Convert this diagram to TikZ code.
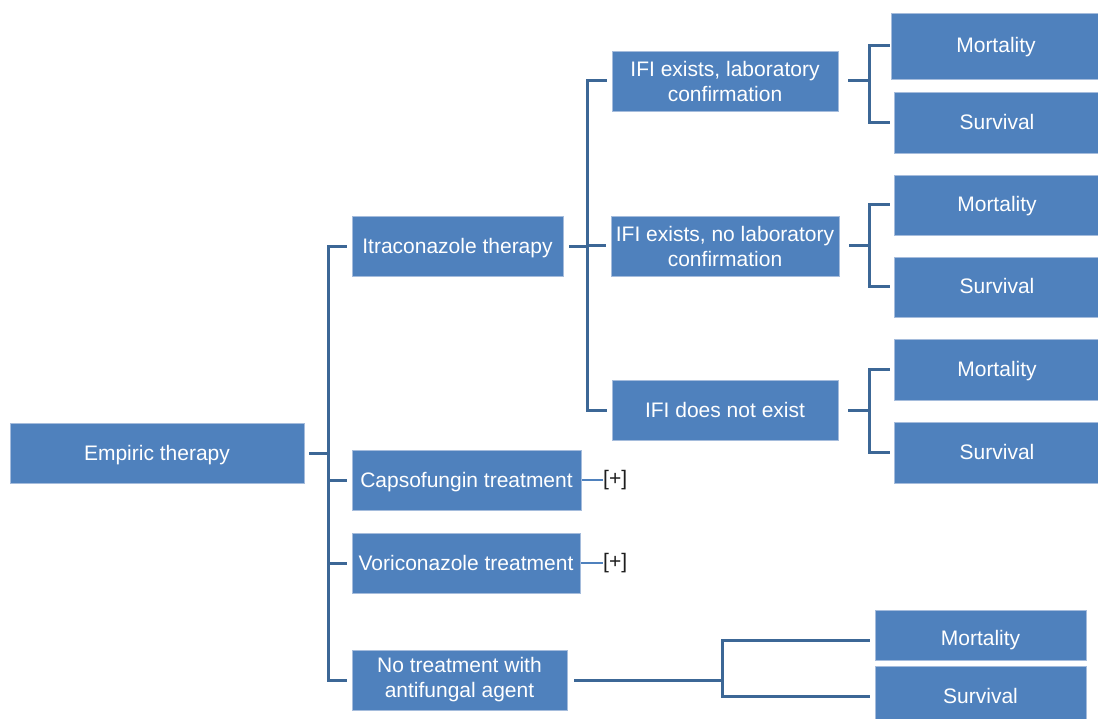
\documentclass[tikz,border=0pt]{standalone}
\usepackage{fontspec}
\setmainfont{Liberation Sans}
\definecolor{boxblue}{RGB}{79,129,189}
\definecolor{boxedge}{RGB}{165,188,220}
\definecolor{linkblue}{RGB}{60,103,150}
\definecolor{pluslink}{RGB}{79,129,189}
\definecolor{plustext}{RGB}{30,30,30}
\tikzset{
  box/.style={rectangle, fill=boxblue, draw=boxedge, line width=0.8pt, text=white,
    inner sep=0pt, align=center, font=\fontsize{21}{25}\selectfont},
  one/.style={box, text height=17pt, text depth=3pt},
  conn/.style={draw=linkblue, line width=3pt},
  pconn/.style={draw=pluslink, line width=1.4pt},
  plus/.style={text=plustext, inner sep=0pt, anchor=west, font=\fontsize{21}{25}\selectfont}
}
\begin{document}
\begin{tikzpicture}[x=1pt, y=-1pt]
\useasboundingbox (0,0) rectangle (1098,719);
\clip (0,0) rectangle (1098,719);
\fill[white] (0,0) rectangle (1098,719);

% level 0
\node[one, minimum width=294pt, minimum height=60pt] (emp) at (157,453) {Empiric therapy};
% level 1
\node[one, minimum width=211pt, minimum height=60pt] (itra) at (457.5,246.5) {Itraconazole therapy};
\node[one, minimum width=229pt, minimum height=60pt] (caps) at (466.5,480) {Capsofungin treatment};
\node[one, minimum width=228pt, minimum height=60pt] (vori) at (466,563) {Voriconazole treatment};
\node[box, minimum width=215pt, minimum height=60pt] (notr) at (459.5,680) {No treatment with\\antifungal agent};
% level 2
\node[box, minimum width=226pt, minimum height=60pt] (ifa) at (725,81) {IFI exists, laboratory\\confirmation};
\node[box, minimum width=228pt, minimum height=60pt] (ifb) at (725,246) {IFI exists, no laboratory\\confirmation};
\node[one, minimum width=226pt, minimum height=60pt] (ifc) at (725,410.5) {IFI does not exist};
% level 3
\node[one, minimum width=210pt, minimum height=66pt] (ma) at (996,46) {Mortality};
\node[one, minimum width=206pt, minimum height=61pt] (sa) at (997,122.5) {Survival};
\node[one, minimum width=206pt, minimum height=60pt] (mb) at (997,205) {Mortality};
\node[one, minimum width=206pt, minimum height=60pt] (sb) at (997,287) {Survival};
\node[one, minimum width=206pt, minimum height=61pt] (mc) at (997,369.5) {Mortality};
\node[one, minimum width=206pt, minimum height=61pt] (sc) at (997,452.5) {Survival};
\node[one, minimum width=211pt, minimum height=50pt] (md) at (980.5,635) {\raisebox{-3.5pt}{Mortality}};
\node[one, minimum width=211pt, minimum height=60pt] (sd) at (980.5,696) {Survival};

% [+] markers
\node[plus] (pa) at (603,480) {[+]};
\node[plus] (pb) at (603,563) {[+]};

% junction coordinates
\coordinate (t0) at (328,0);
\coordinate (t1) at (587,0);
\coordinate (ja) at (869,0);
\coordinate (jd) at (722,0);

% main trunk
\draw[conn] ([xshift=5pt]emp.east) -- (emp.east -| t0);
\draw[conn] ([xshift=-5pt]itra.west) -- (itra.west -| t0) -- (notr.west -| t0) -- ([xshift=-5pt]notr.west);
\draw[conn] (caps.west -| t0) -- ([xshift=-5pt]caps.west);
\draw[conn] (vori.west -| t0) -- ([xshift=-5pt]vori.west);

% plus links
\draw[pconn] ([xshift=1pt]caps.east) -- (pa.west);
\draw[pconn] ([xshift=1pt]vori.east) -- (pb.west);

% itraconazole subtree
\draw[conn] ([xshift=6pt]itra.east) -- (itra.east -| t1);
\draw[conn] ([xshift=-5pt]ifa.west) -- (ifa.west -| t1) -- (ifc.west -| t1) -- ([xshift=-5pt]ifc.west);
\draw[conn] (ifb.west -| t1) -- ([xshift=-5pt]ifb.west);

% outcome branches
\draw[conn] ([xshift=10pt]ifa.east) -- (ifa.east -| ja);
\draw[conn] ([xshift=-1pt]ma.west) -- (ma.west -| ja) -- (sa.west -| ja) -- ([xshift=-4pt]sa.west);
\draw[conn] ([xshift=10pt]ifb.east) -- (ifb.east -| ja);
\draw[conn] ([xshift=-4pt]mb.west) -- (mb.west -| ja) -- (sb.west -| ja) -- ([xshift=-4pt]sb.west);
\draw[conn] ([xshift=10pt]ifc.east) -- (ifc.east -| ja);
\draw[conn] ([xshift=-4pt]mc.west) -- (mc.west -| ja) -- (sc.west -| ja) -- ([xshift=-4pt]sc.west);

% no treatment subtree
\draw[conn] ([xshift=7pt]notr.east) -- (notr.east -| jd);
\draw[conn] ([xshift=-5pt,yshift=-5pt]md.west) -- ([yshift=-5pt]md.west -| jd) -- (sd.west -| jd) -- ([xshift=-5pt]sd.west);
\end{tikzpicture}
\end{document}
